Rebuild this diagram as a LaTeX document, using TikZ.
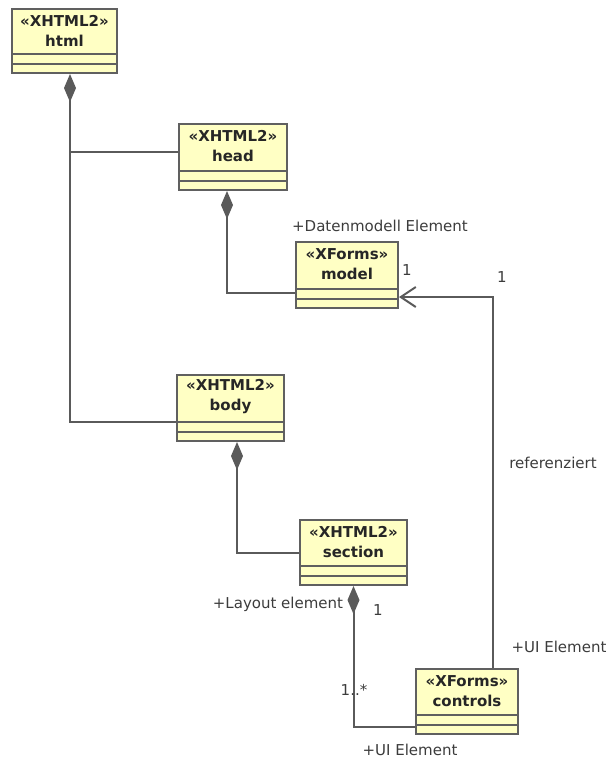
\documentclass[tikz,border=0pt]{standalone}
\usepackage{fontspec}
\setmainfont{DejaVu Sans}
\usetikzlibrary{arrows.meta,calc}
\definecolor{clsfill}{RGB}{255,255,196}
\definecolor{clsdraw}{RGB}{96,96,96}
\definecolor{connc}{RGB}{90,90,90}
\definecolor{lblc}{RGB}{60,60,60}
\newcommand\umlcls[7]{%
  \node[cls, minimum width=#4pt, minimum height=#5pt] (#1) at (#2,#3) {};
  \draw[clsline] ([yshift=20pt]#1.south west) -- ([yshift=20pt]#1.south east);
  \draw[clsline] ([yshift=10pt]#1.south west) -- ([yshift=10pt]#1.south east);
  \node[ctext] (#1-t) at ([yshift=-23pt]#1.north) {«#6»\\#7};
}
\begin{document}
\begin{tikzpicture}[x=1pt,y=-1pt,
  cls/.style={draw=clsdraw, line width=2pt, fill=clsfill, inner sep=0pt},
  clsline/.style={draw=clsdraw, line width=2pt},
  ctext/.style={font=\fontsize{15}{20}\selectfont\bfseries, align=center, text=black!85, inner sep=0pt},
  lbl/.style={font=\fontsize{15}{17}\selectfont, text=lblc, inner sep=0pt},
  conn/.style={draw=connc, line width=2pt},
  comp/.style={conn, {Diamond[length=28pt,width=12pt]}-}
]
\useasboundingbox (0,0) rectangle (610,761);

\umlcls{html}{64.5}{41}{105}{64}{XHTML2}{html}
\umlcls{head}{233}{157}{108}{66}{XHTML2}{head}
\umlcls{model}{347}{275}{102}{66}{XForms}{model}
\umlcls{body}{230.5}{408}{107}{66}{XHTML2}{body}
\umlcls{section}{353.5}{552.5}{107}{65}{XHTML2}{section}
\umlcls{controls}{467}{701.5}{102}{65}{XForms}{controls}

% html composition
\coordinate (hx) at ([xshift=5.5pt]html.south);
\draw[comp] (hx) |- ([yshift=-14pt]body.west);
\coordinate (hb) at ($(head.west)+(0,-5)$);
\draw[conn] (hb) -- (hb -| hx);

% head -> model
\draw[comp] ([xshift=-6pt]head.south) |- ([yshift=-18pt]model.west);
% body -> section
\draw[comp] ([xshift=6.5pt]body.south) |- (section.west);
% section -> controls
\draw[comp] (section.south) |- ([yshift=-25.5pt]controls.west);
% controls -> model
\draw[conn, -{Straight Barb[length=15pt,width=20pt]}] ([xshift=26pt]controls.north) |- ([yshift=-22pt]model.east);

% labels
\node[lbl] (l1) at (380,226) {+Datenmodell Element};
\node[lbl] (l2) at (407,270) {1};
\node[lbl] (l3) at (502,277) {1};
\node[lbl] (l4) at (553,463) {referenziert};
\node[lbl] (l5) at (559,647) {+UI Element};
\node[lbl] (l6) at (278,604) {+Layout element};
\node[lbl] (l7) at (378,610) {1};
\node[lbl] (l8) at (354,690) {1..*};
\node[lbl] (l9) at (410,750) {+UI Element};
\end{tikzpicture}
\end{document}
